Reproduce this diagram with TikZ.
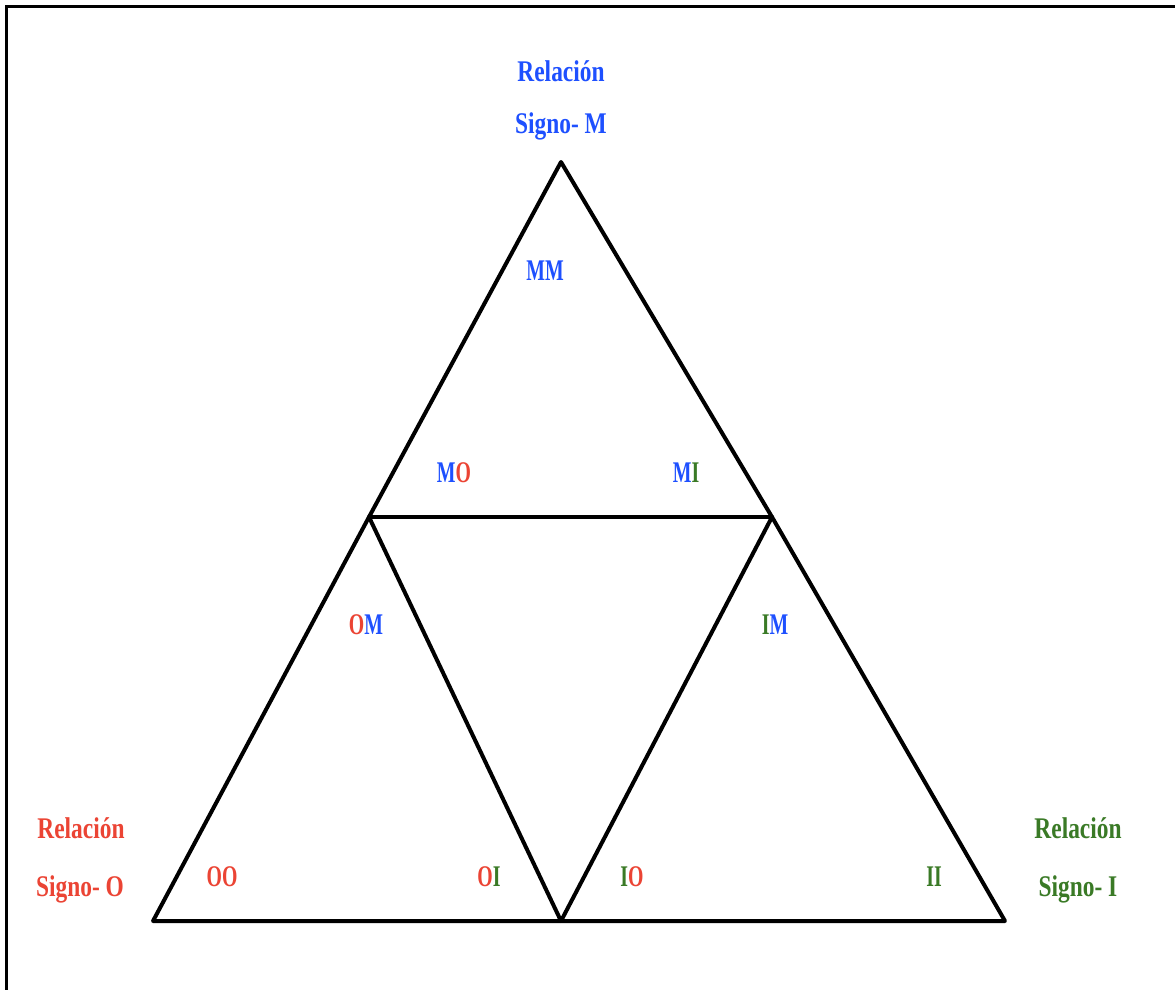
\documentclass[tikz,border=0pt]{standalone}
\usepackage{fontspec}
\newfontfamily\labfont[FakeStretch=0.78]{Liberation Serif}
\newfontfamily\pairfont[FakeStretch=0.66]{Liberation Serif}
\definecolor{sigM}{RGB}{30,80,255}
\definecolor{sigO}{RGB}{235,68,52}
\definecolor{sigI}{RGB}{58,122,38}
\begin{document}
\begin{tikzpicture}[x=1pt,y=-1pt,
  edge/.style={line width=4pt,line cap=round,line join=round},
  frameline/.style={line width=3pt},
  rel/.style={anchor=base,inner sep=0pt,font=\labfont\bfseries\fontsize{30}{30}\selectfont},
  pair/.style={anchor=base,inner sep=0pt,font=\pairfont\bfseries\fontsize{30}{30}\selectfont}]
\useasboundingbox (0,0) rectangle (1175,989);
% outer frame (top and left edges)
\coordinate (fTR) at (1180,6);
\coordinate (fTL) at (6,6);
\coordinate (fBL) at (6,995);
\draw[frameline] (fTR) -- (fTL) -- (fBL);

% triangle corners
\coordinate (A) at (561,162);
\coordinate (L) at (369,517);
\coordinate (R) at (772,517);
\coordinate (BL) at (153,921);
\coordinate (BM) at (561,921);
\coordinate (BR) at (1005,921);

\draw[edge] (A) -- (L) -- (BL) -- (BM) -- (BR) -- (R) -- cycle;
\draw[edge] (L) -- (R);
\draw[edge] (L) -- (BM) -- (R);

% corner captions
\node[rel,text=sigM] (tm1) at (561,81) {Relación};
\node[rel,text=sigM] (tm2) at (561,133) {Signo- M};
\node[rel,text=sigO] (to1) at (81,838) {Relación};
\node[rel,text=sigO] (to2) at (80,896) {Signo- O};
\node[rel,text=sigI] (ti1) at (1078,838) {Relación};
\node[rel,text=sigI] (ti2) at (1078,896) {Signo- I};

% pair labels
\node[pair] (mm) at (545,280) {\textcolor{sigM}{M}\textcolor{sigM}{M}};
\node[pair] (mo) at (454,482) {\textcolor{sigM}{M}\textcolor{sigO}{O}};
\node[pair] (mi) at (686,482) {\textcolor{sigM}{M}\textcolor{sigI}{I}};
\node[pair] (om) at (366,634) {\textcolor{sigO}{O}\textcolor{sigM}{M}};
\node[pair] (im) at (775,634) {\textcolor{sigI}{I}\textcolor{sigM}{M}};
\node[pair] (oo) at (222,886) {\textcolor{sigO}{O}\textcolor{sigO}{O}};
\node[pair] (oi) at (489,886) {\textcolor{sigO}{O}\textcolor{sigI}{I}};
\node[pair] (io) at (632,886) {\textcolor{sigI}{I}\textcolor{sigO}{O}};
\node[pair] (ii) at (934,886) {\textcolor{sigI}{I}\textcolor{sigI}{I}};
\end{tikzpicture}
\end{document}
